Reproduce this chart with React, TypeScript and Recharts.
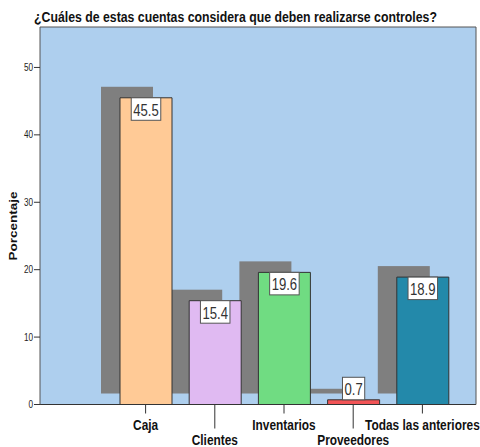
import { BarChart, Bar, XAxis, YAxis, CartesianGrid, Cell, LabelList } from 'recharts'

const categories = ['Caja', 'Clientes', 'Inventarios', 'Proveedores', 'Todas las anteriores']
const percentages = [45.5, 15.4, 19.6, 0.7, 18.9]
const barColors = ['#ffca96', '#e0baf2', '#70dc82', '#f25456', '#2389aa']
const yTicks = [0, 10, 20, 30, 40, 50]

const title = '¿Cuáles de estas cuentas considera que deben realizarse controles?'
const yTitle = 'Porcentaje'

const font = "'Liberation Sans', Arial, sans-serif"
// all text is set slightly condensed
const SQUEEZE = 0.82

const data = categories.map((name, i) => ({ name, value: percentages[i] }))

// grey block drawn up and to the left of each bar
function ShadowShape(props: any) {
  const { x, y, width, height } = props
  return <rect x={x - 19} y={y - 11} width={width} height={height} fill="#7f7f7f" />
}

function ValueBox(props: any) {
  const vb = props.viewBox ?? props
  const { x, y, width, height } = vb
  const text = Number(props.value).toFixed(1)
  const digits = text.replace('.', '').length
  const textW = (digits * 0.556 + 0.278) * 16 * SQUEEZE
  const w = textW + 4
  const h = 22.5
  const cx = x + width / 2
  const top = height < h ? y - h : y
  return (
    <g>
      <rect x={cx - w / 2} y={top} width={w} height={h} fill="#fff" stroke="#555" strokeWidth={1} />
      <text transform={`translate(${cx} ${top + 18}) scale(${SQUEEZE} 1)`} textAnchor="middle"
        fontFamily={font} fontSize={16} fill="#333">{text}</text>
    </g>
  )
}

// category labels alternate between two rows so long names fit
function CategoryTick(props: any) {
  const { x, y, payload, index } = props
  const low = index % 2 === 1
  return (
    <g>
      <line x1={x} x2={x} y1={y} y2={y + (low ? 24 : 9)} stroke="#333" />
      <text transform={`translate(${x} ${y + (low ? 40 : 25)}) scale(${SQUEEZE} 1)`} textAnchor="middle"
        fontFamily={font} fontWeight="bold" fontSize={14.5} fill="#111">{payload.value}</text>
    </g>
  )
}

function ValueTick(props: any) {
  const { x, y, payload } = props
  return (
    <text transform={`translate(${x} ${y + 3.5}) scale(${SQUEEZE} 1)`} textAnchor="end"
      fontFamily={font} fontSize={10} fill="#222">{payload.value}</text>
  )
}

export default function App() {
  return (
    <div style={{ position: 'absolute', left: 0, top: 0, width: 480, height: 447, background: '#fff' }}>
      <BarChart width={480} height={447} data={data}
        margin={{ top: 26, right: 3, bottom: 0, left: 0 }}>
        <CartesianGrid fill="#aecfee" horizontal={false} vertical={false} />
        <XAxis xAxisId="shadow" dataKey="name" hide padding={{ left: 71, right: 19 }} />
        <XAxis xAxisId="main" dataKey="name" interval={0} height={42.5} padding={{ left: 71, right: 19 }}
          tickLine={false} tickSize={0} tickMargin={0} tick={<CategoryTick />}
          axisLine={{ stroke: '#333' }} />
        <XAxis xAxisId="top" dataKey="name" orientation="top" height={1} tick={false}
          tickLine={false} axisLine={{ stroke: '#555' }} />
        <YAxis domain={[0, 56]} ticks={yTicks} width={40} tickSize={6} tickMargin={1}
          axisLine={{ stroke: '#555' }} tickLine={{ stroke: '#333' }} tick={<ValueTick />} />
        <YAxis yAxisId="right" orientation="right" domain={[0, 56]} width={1} tick={false}
          tickLine={false} axisLine={{ stroke: '#555' }} />
        <Bar xAxisId="shadow" dataKey="value" barSize={52} shape={<ShadowShape />} isAnimationActive={false} />
        <Bar xAxisId="main" dataKey="value" barSize={52} stroke="#333" strokeWidth={1} isAnimationActive={false}>
          {data.map((d, i) => (
            <Cell key={d.name} fill={barColors[i]} />
          ))}
          <LabelList dataKey="value" content={<ValueBox />} />
        </Bar>
      </BarChart>
      <svg width={480} height={447} style={{ position: 'absolute', left: 0, top: 0, pointerEvents: 'none' }}>
        <text transform={`translate(34 22) scale(${SQUEEZE} 1)`} fontFamily={font} fontWeight="bold"
          fontSize={15} fill="#111">{title}</text>
        <text transform={`translate(16.5 226) scale(${SQUEEZE} 1) rotate(-90)`} textAnchor="middle"
          fontFamily={font} fontWeight="bold" fontSize={13.5} fill="#111">{yTitle}</text>
      </svg>
    </div>
  )
}
